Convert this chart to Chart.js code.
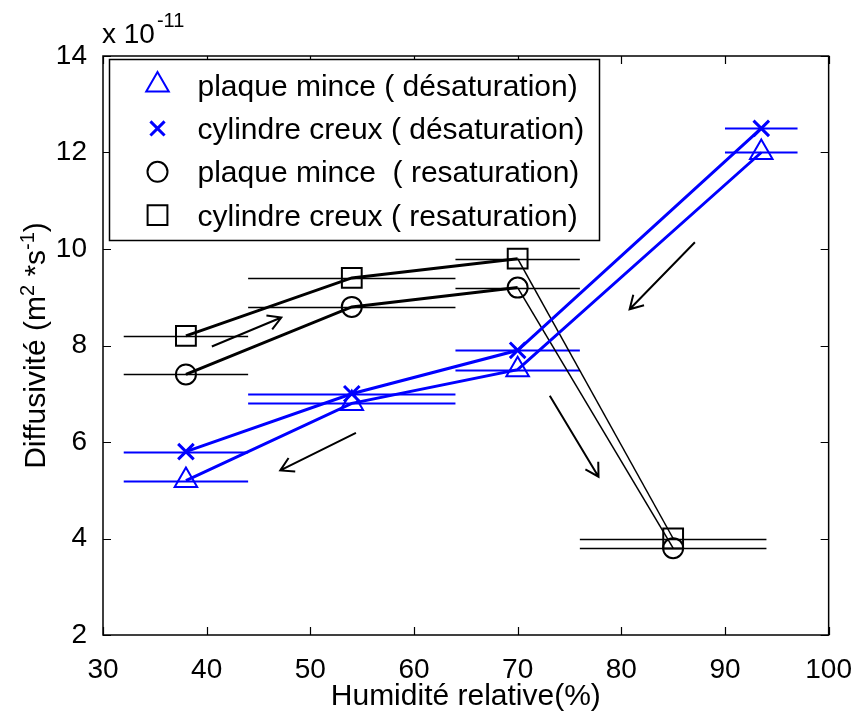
<!DOCTYPE html>
<html lang="fr">
<head>
<meta charset="utf-8">
<title>Diffusivité</title>
<script src="https://cdn.jsdelivr.net/npm/chart.js@4.4.1/dist/chart.umd.min.js"></script>
<style>
  html, body { margin: 0; padding: 0; background: #fff; }
  #wrap { width: 862px; height: 711px; }
</style>
</head>
<body>
<div id="wrap"><canvas id="chart" width="862" height="711"></canvas></div>
<script>
const FONT = '"Liberation Sans", Arial, Helvetica, sans-serif';
const BLUE = '#0000ff';
const BLACK = '#000000';

// relative humidity (%) for each campaign
const humidityDes = [38, 54, 70, 93.5];
const humidityRes = [38, 54, 70, 85];

// diffusivity values, in units of 1e-11 m2/s
const plaqueDes = [5.2, 6.8, 7.5, 12.0];
const cylindreDes = [5.8, 7.0, 7.9, 12.5];
const plaqueRes = [7.4, 8.8, 9.2, 3.8];
const cylindreRes = [8.2, 9.4, 9.8, 4.0];

// horizontal error (half width, % humidity)
const errDes = [6, 10, 6, 3.5];
const errRes = [6, 10, 6, 9];

const seriesLabels = [
  'plaque mince ( désaturation)',
  'cylindre creux ( désaturation)',
  'plaque mince  ( resaturation)',
  'cylindre creux ( resaturation)'
];

const xTickValues = [30, 40, 50, 60, 70, 80, 90, 100];
const yTickValues = [2, 4, 6, 8, 10, 12, 14];

// hand drawn arrows: [x0, y0, x1, y1] in data units, head at (x1, y1)
const arrows = [
  [40.5, 7.98, 47.2, 8.58],
  [54.4, 6.19, 47.1, 5.41],
  [87.1, 10.14, 80.8, 8.75],
  [73.1, 6.96, 77.8, 5.28]
];

function toPoints(xs, ys) {
  return xs.map((x, i) => ({ x: x, y: ys[i] }));
}

// thin line for the last resaturation segment (70 -> 85)
const resWidth = ctx => ctx.p0DataIndex === 2 ? 1.5 : 3;

const datasets = [
  { label: seriesLabels[0], data: toPoints(humidityDes, plaqueDes), xErr: errDes,
    borderColor: BLUE, pointStyle: 'triangle', pointRadius: 13, pointBorderWidth: 2, borderWidth: 3 },
  { label: seriesLabels[1], data: toPoints(humidityDes, cylindreDes), xErr: errDes,
    borderColor: BLUE, pointStyle: 'crossRot', pointRadius: 11, pointBorderWidth: 3, borderWidth: 3 },
  { label: seriesLabels[2], data: toPoints(humidityRes, plaqueRes), xErr: errRes,
    borderColor: BLACK, pointStyle: 'circle', pointRadius: 10, pointBorderWidth: 2, borderWidth: 3,
    segment: { borderWidth: resWidth } },
  { label: seriesLabels[3], data: toPoints(humidityRes, cylindreRes), xErr: errRes,
    borderColor: BLACK, pointStyle: 'rect', pointRadius: 14, pointBorderWidth: 2, borderWidth: 3,
    segment: { borderWidth: resWidth } }
].map(d => Object.assign({
  showLine: true,
  fill: false,
  tension: 0,
  backgroundColor: 'rgba(0,0,0,0)',
  pointBackgroundColor: 'rgba(0,0,0,0)',
  pointBorderColor: d.borderColor,
  pointHoverRadius: d.pointRadius
}, d));

// horizontal error bars under the series
const errorBars = {
  id: 'errorBars',
  beforeDatasetsDraw(chart) {
    const { ctx, scales: { x, y } } = chart;
    ctx.save();
    chart.data.datasets.forEach(ds => {
      ctx.strokeStyle = ds.borderColor;
      ctx.lineWidth = ds.borderColor === BLUE ? 2 : 1.6;
      ds.data.forEach((p, i) => {
        const py = Math.round(y.getPixelForValue(p.y)) + 0.5;
        ctx.beginPath();
        ctx.moveTo(x.getPixelForValue(p.x - ds.xErr[i]), py);
        ctx.lineTo(x.getPixelForValue(p.x + ds.xErr[i]), py);
        ctx.stroke();
      });
    });
    ctx.restore();
  }
};

function drawArrow(ctx, x0, y0, x1, y1) {
  const ang = Math.atan2(y1 - y0, x1 - x0);
  const len = 15, spread = Math.PI / 6;
  ctx.beginPath();
  ctx.moveTo(x0, y0);
  ctx.lineTo(x1, y1);
  ctx.moveTo(x1 - len * Math.cos(ang - spread), y1 - len * Math.sin(ang - spread));
  ctx.lineTo(x1, y1);
  ctx.lineTo(x1 - len * Math.cos(ang + spread), y1 - len * Math.sin(ang + spread));
  ctx.stroke();
}

// matlab style box, inward ticks, arrows, legend and titles
const decorations = {
  id: 'decorations',
  afterDatasetsDraw(chart) {
    const { ctx, chartArea: a, scales: { x, y } } = chart;
    ctx.save();

    // arrows
    ctx.strokeStyle = BLACK;
    ctx.lineWidth = 2;
    arrows.forEach(ar => drawArrow(ctx,
      x.getPixelForValue(ar[0]), y.getPixelForValue(ar[1]),
      x.getPixelForValue(ar[2]), y.getPixelForValue(ar[3])));

    // axes box
    ctx.lineWidth = 1.5;
    ctx.strokeRect(a.left, a.top, a.right - a.left, a.bottom - a.top);

    // inward ticks on all four sides
    const tl = 8;
    ctx.lineWidth = 1.2;
    ctx.beginPath();
    xTickValues.forEach(v => {
      const px = Math.round(x.getPixelForValue(v)) + 0.5;
      ctx.moveTo(px, a.bottom); ctx.lineTo(px, a.bottom - tl);
      ctx.moveTo(px, a.top); ctx.lineTo(px, a.top + tl);
    });
    yTickValues.forEach(v => {
      const py = Math.round(y.getPixelForValue(v)) + 0.5;
      ctx.moveTo(a.left, py); ctx.lineTo(a.left + tl, py);
      ctx.moveTo(a.right, py); ctx.lineTo(a.right - tl, py);
    });
    ctx.stroke();

    // legend box
    const lx = a.left + 6.5, ly = a.top + 3.5, lw = 490, lh = 181;
    ctx.fillStyle = '#fff';
    ctx.fillRect(lx, ly, lw, lh);
    ctx.lineWidth = 1.5;
    ctx.strokeStyle = BLACK;
    ctx.strokeRect(lx, ly, lw, lh);
    chart.data.datasets.forEach((ds, i) => {
      const cy = ly + 25.5 + i * 43.4;
      const isCross = ds.pointStyle === 'crossRot';
      ctx.strokeStyle = ds.borderColor;
      ctx.fillStyle = 'rgba(0,0,0,0)';
      ctx.lineWidth = isCross ? 3 : 2;
      Chart.helpers.drawPoint(ctx, {
        pointStyle: ds.pointStyle, radius: isCross ? 10 : ds.pointRadius,
        rotation: 0, borderWidth: ctx.lineWidth
      }, lx + 48, cy);
      ctx.fillStyle = BLACK;
      ctx.font = '30px ' + FONT;
      ctx.textAlign = 'left';
      ctx.textBaseline = 'alphabetic';
      ctx.fillText(ds.label, lx + 88, cy + 10.5);
    });

    ctx.restore();
  },
  afterDraw(chart) {
    const { ctx, chartArea: a } = chart;
    ctx.save();
    ctx.fillStyle = BLACK;

    // x axis title
    ctx.font = '30px ' + FONT;
    ctx.textAlign = 'center';
    ctx.textBaseline = 'alphabetic';
    ctx.fillText('Humidité relative(%)', (a.left + a.right) / 2, 705);

    // exponent label above the y axis
    ctx.textAlign = 'left';
    ctx.font = '28px ' + FONT;
    ctx.fillText('x 10', a.left - 1, 43);
    const w10 = ctx.measureText('x 10').width;
    ctx.font = '20px ' + FONT;
    ctx.fillText('-11', a.left - 1 + w10 + 2, 27);

    // y axis title with superscripts
    const parts = [
      ['Diffusivité (m', 30, 0], ['2', 20, -11], [' *s', 30, 0], ['-1', 20, -11], [')', 30, 0]
    ];
    let total = 0;
    parts.forEach(p => { ctx.font = p[1] + 'px ' + FONT; total += ctx.measureText(p[0]).width; });
    ctx.translate(45, (a.top + a.bottom) / 2);
    ctx.rotate(-Math.PI / 2);
    let cx = -total / 2;
    parts.forEach(p => {
      ctx.font = p[1] + 'px ' + FONT;
      ctx.fillText(p[0], cx, p[2]);
      cx += ctx.measureText(p[0]).width;
    });
    ctx.restore();
  }
};

new Chart(document.getElementById('chart'), {
  type: 'scatter',
  data: { datasets: datasets },
  options: {
    responsive: false,
    animation: false,
    layout: { padding: { top: 56, right: 28, left: 0, bottom: 0 } },
    plugins: {
      legend: { display: false },
      tooltip: { enabled: false },
      title: { display: false }
    },
    scales: {
      x: {
        type: 'linear',
        min: 30,
        max: 100,
        afterBuildTicks: s => { s.ticks = xTickValues.map(v => ({ value: v })); },
        afterFit: s => { s.height = 76; },
        grid: { display: false },
        border: { display: false },
        ticks: { color: BLACK, padding: 10, maxRotation: 0, font: { family: FONT, size: 28 } }
      },
      y: {
        type: 'linear',
        min: 2,
        max: 14,
        afterBuildTicks: s => { s.ticks = yTickValues.map(v => ({ value: v })); },
        afterFit: s => { s.width = 103; },
        grid: { display: false },
        border: { display: false },
        ticks: { color: BLACK, padding: 8, font: { family: FONT, size: 28 } }
      }
    }
  },
  plugins: [errorBars, decorations]
});
</script>
</body>
</html>
